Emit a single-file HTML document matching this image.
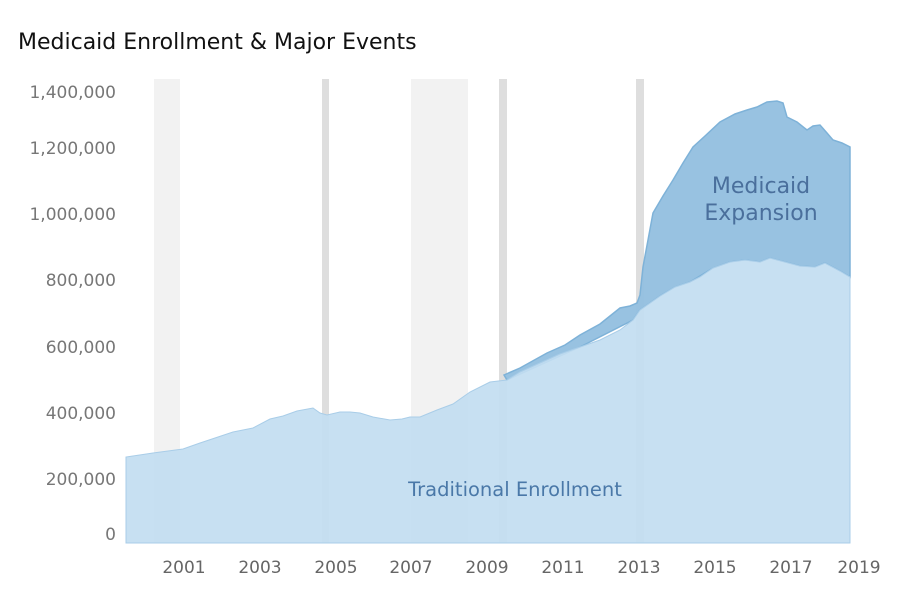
<!DOCTYPE html>
<html><head><meta charset="utf-8"><style>body{margin:0;background:#fff}svg{display:block}text{font-family:"DejaVu Sans","Liberation Sans",sans-serif}</style></head><body>
<svg width="900" height="599" viewBox="0 0 900 599">
<text x="18" y="49" font-size="22" fill="#111">Medicaid Enrollment &amp; Major Events</text>
<g fill="#f2f2f2"><rect x="154" y="79" width="26" height="464"/><rect x="411" y="79" width="57" height="464"/></g>
<g fill="#dedede"><rect x="322" y="79" width="7" height="464"/><rect x="499" y="79" width="8" height="464"/><rect x="636" y="79" width="8" height="464"/></g>
<path d="M504,375 L520,368 L547,353 L565,345 L580,335 L600,324 L620,308 L630,306 L637,303 L640,295 L643,267 L648,240 L653,213 L663,196 L673,180 L683,163 L693,147 L705,136 L720,122 L735,114 L747,110 L757,107 L767,102 L777,101 L783,103 L787,117 L797,122 L807,130 L813,126 L820,125 L827,133 L833,140 L842,143 L850,147 L850,277 L840,271 L825,263 L815,267 L800,266 L785,262 L770,258 L760,262 L745,260 L730,262 L713,268 L690,282 L675,287 L660,296 L640,310 L633,320 L580,347 L507,380 Z" fill="#92bfdf" fill-opacity="0.95" stroke="#7eb2d8" stroke-width="1.5"/>
<path d="M126,543 L126,457 L153,453 L183,449 L200,443 L233,432 L253,428 L270,419 L283,416 L297,411 L313,408 L320,413 L327,415 L340,412 L350,412 L360,413 L373,417 L390,420 L402,419 L410,417 L420,417 L437,410 L453,404 L470,392 L490,382 L507,380 L520,372 L540,363 L560,354 L580,347 L600,340 L620,330 L633,320 L640,310 L660,296 L675,287 L690,282 L700,277 L713,268 L730,262 L745,260 L760,262 L770,258 L785,262 L800,266 L815,267 L825,263 L840,271 L850,277 L850,543 Z" fill="#c2ddf1" fill-opacity="0.92" stroke="#a9cde8" stroke-width="1"/>
<g font-size="17" fill="#777" text-anchor="end">
<text x="116" y="98">1,400,000</text><text x="116" y="154">1,200,000</text><text x="116" y="220">1,000,000</text><text x="116" y="286">800,000</text><text x="116" y="353">600,000</text><text x="116" y="419">400,000</text><text x="116" y="485">200,000</text><text x="116" y="540">0</text>
</g>
<g font-size="17" fill="#666" text-anchor="middle">
<text x="184" y="573">2001</text><text x="260" y="573">2003</text><text x="336" y="573">2005</text><text x="411" y="573">2007</text><text x="487" y="573">2009</text><text x="563" y="573">2011</text><text x="639" y="573">2013</text><text x="715" y="573">2015</text><text x="791" y="573">2017</text><text x="859" y="573">2019</text>
</g>
<text x="515" y="496" font-size="19.5" fill="#4a78a8" text-anchor="middle">Traditional Enrollment</text>
<text x="761" y="193" font-size="22" fill="#4a6f9c" text-anchor="middle">Medicaid</text>
<text x="761" y="220" font-size="22" fill="#4a6f9c" text-anchor="middle">Expansion</text>
</svg>
</body></html>
